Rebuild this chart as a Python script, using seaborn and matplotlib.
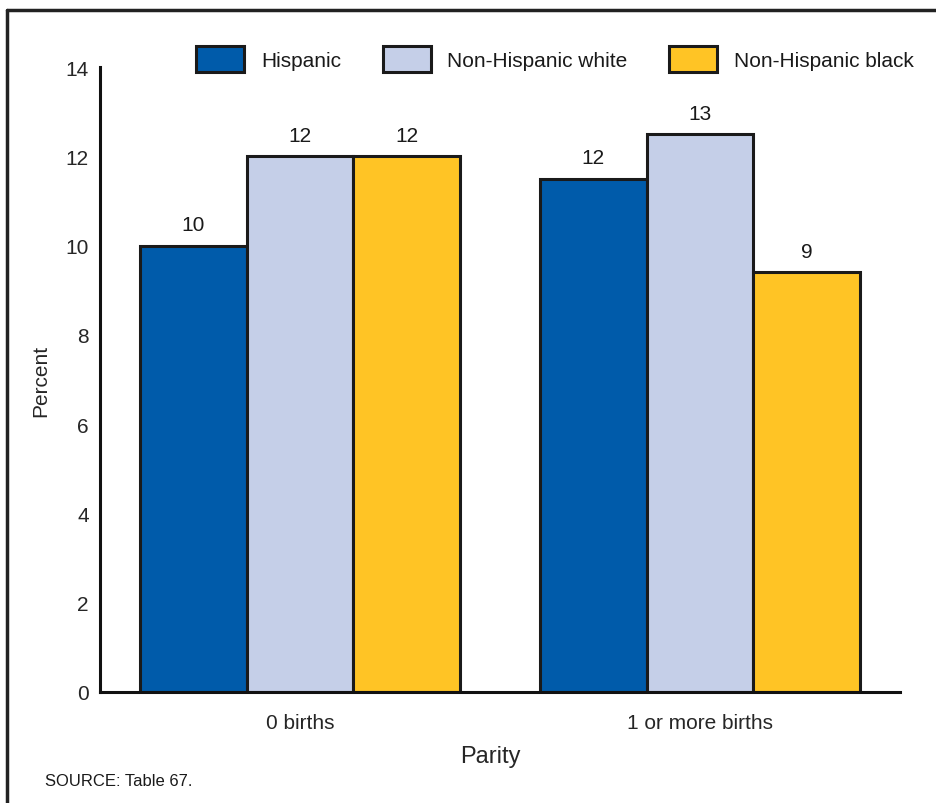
import pandas as pd
import matplotlib.pyplot as plt
import seaborn as sns
from matplotlib.patches import Patch
from matplotlib.lines import Line2D

parity = ["0 births", "1 or more births"]
groups = ["Hispanic", "Non-Hispanic white", "Non-Hispanic black"]
hispanic = [10.0, 11.5]
nh_white = [12.0, 12.5]
nh_black = [12.0, 9.4]
shown_labels = {
    "Hispanic": ["10", "12"],
    "Non-Hispanic white": ["12", "13"],
    "Non-Hispanic black": ["12", "9"],
}
yticks = [0, 2, 4, 6, 8, 10, 12, 14]

colors = ["#005BAA", "#C5CFE8", "#FFC425"]


def make_chart():
    sns.set_style("white")
    plt.rcParams["font.family"] = ["Liberation Sans", "DejaVu Sans"]
    plt.rcParams["text.color"] = "#1a1a1a"

    df = pd.DataFrame({
        "Parity": parity * 3,
        "Group": [g for g in groups for _ in parity],
        "Percent": hispanic + nh_white + nh_black,
    })

    fig = plt.figure(figsize=(9.36, 8.04), dpi=100)
    ax = fig.add_axes([100 / 936, 1 - 693 / 804, 800 / 936, 625 / 804])

    sns.barplot(data=df, x="Parity", y="Percent", hue="Group", order=parity,
                hue_order=groups, palette=colors, width=0.8,
                edgecolor="#1a1a1a", linewidth=2.2, saturation=1, ax=ax)

    for cont, g in zip(ax.containers, groups):
        ax.bar_label(cont, labels=shown_labels[g], padding=8, fontsize=15)

    ax.set_xlim(-0.5, 1.5)
    ax.set_ylim(0, 14)
    ax.set_yticks(yticks)
    ax.set_yticklabels([str(t) for t in yticks])
    sns.despine(ax=ax)
    for side in ["left", "bottom"]:
        ax.spines[side].set_linewidth(2.2)
        ax.spines[side].set_color("#111111")
    ax.tick_params(axis="y", direction="in", length=14, width=2.2, pad=8,
                   labelsize=15, color="#111111")
    ax.tick_params(axis="x", length=0, pad=15, labelsize=15)
    ax.set_ylabel("Percent", fontsize=15, labelpad=11)
    ax.set_xlabel("Parity", fontsize=17, labelpad=12)
    ax.xaxis.set_label_coords(0.4875, -0.085)

    ax.get_legend().remove()
    handles = [Patch(facecolor=c, edgecolor="#1a1a1a", linewidth=2.2) for c in colors]
    fig.legend(handles, groups, ncol=3, loc="center", bbox_to_anchor=(555 / 936, 1 - 60 / 804),
               frameon=False, fontsize=15, handlelength=2.3, handleheight=1.6,
               handletextpad=0.8, columnspacing=2.0)

    fig.text(45 / 936, 1 - 782 / 804, "SOURCE: Table 67.", fontsize=12, va="center", ha="left")

    # frame round the figure (top and left edges visible)
    fig.add_artist(Line2D([7 / 936, 7 / 936], [0, 1 - 11 / 804], transform=fig.transFigure,
                          color="#222222", linewidth=2.5))
    fig.add_artist(Line2D([7 / 936, 1], [1 - 11 / 804, 1 - 11 / 804], transform=fig.transFigure,
                          color="#222222", linewidth=2.5))

    fig.savefig("out.png", dpi=100)


if __name__ == "__main__":
    make_chart()
